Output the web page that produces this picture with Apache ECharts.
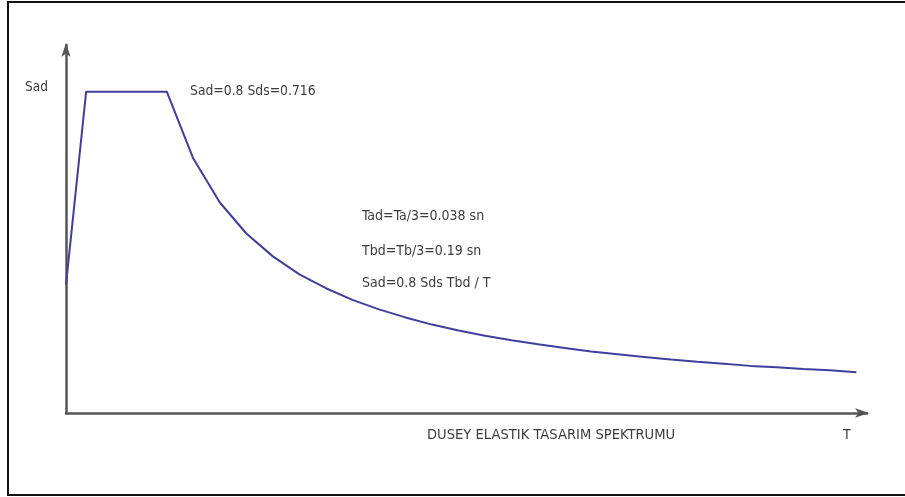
<!DOCTYPE html>
<html>
<head>
<meta charset="utf-8">
<script src="https://cdn.jsdelivr.net/npm/echarts@6/dist/echarts.min.js"></script>
<style>
  html, body { margin: 0; padding: 0; background: #fff; }
  #chart { width: 905px; height: 497px; }
</style>
</head>
<body>
<div id="chart"></div>
<script>
// Vertical elastic design spectrum: period T (s) vs Sad
const periods = [0, 0.038, 0.19, 0.24, 0.29, 0.34, 0.39, 0.44, 0.49, 0.54, 0.59, 0.64, 0.69,
  0.74, 0.79, 0.84, 0.89, 0.94, 0.99, 1.04, 1.09, 1.14, 1.19, 1.24, 1.29, 1.34, 1.39, 1.44, 1.49];
const sadValues = [0.286, 0.716, 0.716, 0.567, 0.469, 0.400, 0.349, 0.309, 0.278, 0.252, 0.231,
  0.213, 0.197, 0.184, 0.172, 0.162, 0.153, 0.145, 0.137, 0.131, 0.125, 0.119, 0.114, 0.110,
  0.105, 0.102, 0.098, 0.095, 0.091];

const yAxisLabel = 'Sad';
const xAxisLabel = 'T';
const chartCaption = 'DUSEY ELASTIK TASARIM SPEKTRUMU';
const plateauNote = 'Sad=0.8 Sds=0.716';
const formulaNotes = ['Tad=Ta/3=0.038 sn', 'Tbd=Tb/3=0.19 sn', 'Sad=0.8 Sds Tbd / T'];

const textColor = '#3c3c3c';
const fontFamily = 'DejaVu Sans Condensed, Liberation Sans, sans-serif';

const chart = echarts.init(document.getElementById('chart'), null, { renderer: 'canvas' });

// Annotation text, positioned by its vertical centre
function note(text, x, cy, size) {
  return {
    type: 'text', left: x, top: cy - size / 2 - 1, silent: true,
    style: { text: text, fill: textColor, font: size + 'px ' + fontFamily }
  };
}

chart.setOption({
  animation: false,
  backgroundColor: '#fff',
  grid: { left: 66, right: 38, top: 45, bottom: 84, containLabel: false },
  xAxis: {
    type: 'value', min: 0, max: 1.51,
    axisLine: { show: true, lineStyle: { color: '#555', width: 2.5 },
      symbol: ['none', 'arrow'], symbolSize: [7, 14], symbolOffset: [0, 2] },
    axisTick: { show: false }, axisLabel: { show: false }, splitLine: { show: false }
  },
  yAxis: {
    type: 'value', min: 0, max: 0.82,
    axisLine: { show: true, lineStyle: { color: '#555', width: 2.5 },
      symbol: ['none', 'arrow'], symbolSize: [7, 14], symbolOffset: [0, 2] },
    axisTick: { show: false }, axisLabel: { show: false }, splitLine: { show: false }
  },
  series: [{
    type: 'line',
    data: periods.map((t, i) => [t, sadValues[i]]),
    showSymbol: false,
    smooth: false,
    lineStyle: { color: '#3f3f9f', width: 2 }
  }],
  graphic: [
    {
      type: 'rect', silent: true,
      shape: { x: 8, y: 2, width: 900, height: 493 },
      style: { fill: 'none', stroke: '#111', lineWidth: 2 }
    },
    note(yAxisLabel, 25, 88, 13.5),
    note(plateauNote, 190, 92, 13.8),
    note(formulaNotes[0], 362, 217, 14),
    note(formulaNotes[1], 362, 252, 14),
    note(formulaNotes[2], 362, 284, 14),
    note(chartCaption, 427, 436, 14.6),
    note(xAxisLabel, 843, 436, 14)
  ]
});
</script>
</body>
</html>
